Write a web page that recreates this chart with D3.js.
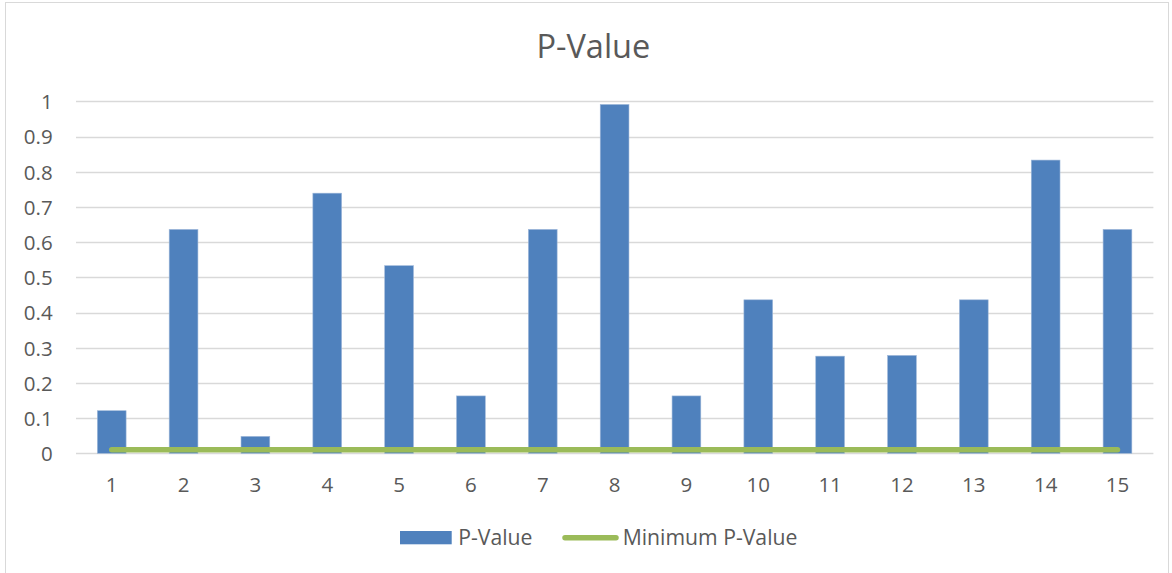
<!DOCTYPE html>
<html><head><meta charset="utf-8">
<script src="https://cdn.jsdelivr.net/npm/d3@7"></script>
<style>html,body{margin:0;padding:0;background:#fff;} svg{display:block;}</style>
</head><body>
<svg id="chart" width="1172" height="573"></svg>
<script>
const categories = ["1","2","3","4","5","6","7","8","9","10","11","12","13","14","15"];
const pValues = [0.121, 0.636, 0.048, 0.739, 0.533, 0.163, 0.636, 0.991, 0.163, 0.436, 0.276, 0.278, 0.436, 0.833, 0.636];
const minPValue = [0.01,0.01,0.01,0.01,0.01,0.01,0.01,0.01,0.01,0.01,0.01,0.01,0.01,0.01,0.01];
const yTicks = [0,0.1,0.2,0.3,0.4,0.5,0.6,0.7,0.8,0.9,1];
const seriesNames = ["P-Value","Minimum P-Value"];
const title = "P-Value";

const font = "'Open Sans', sans-serif";
const textColor = "#595959";
const svg = d3.select("#chart");

// chart border
svg.append("rect").attr("x",5.5).attr("y",2.5).attr("width",1163).attr("height",580)
  .attr("fill","#fff").attr("stroke","#D9D9D9").attr("stroke-width",1);

const x = d3.scaleBand().domain(categories).range([75.8,1153.4]).paddingInner(0.6).paddingOuter(0.3);
const y = d3.scaleLinear().domain([0,1]).range([453.3,101.3]);

// gridlines
svg.append("g").selectAll("line").data(yTicks).join("line")
  .attr("x1",76).attr("x2",1153.4)
  .attr("y1",d=>Math.round(y(d))+0.5).attr("y2",d=>Math.round(y(d))+0.5)
  .attr("stroke","#D9D9D9").attr("stroke-width",1.3);

// y axis labels
const yAxis = d3.axisLeft(y).tickValues(yTicks).tickSize(0).tickPadding(0).tickFormat(d3.format("~g"));
const gy = svg.append("g").attr("transform","translate(52.7,0)").call(yAxis);
gy.select(".domain").remove();
gy.selectAll("text").attr("font-family",font).attr("font-size","20.5px").attr("fill",textColor).attr("dy","0.36em");

// x axis labels
const xAxis = d3.axisBottom(x).tickSize(0).tickPadding(0);
const gx = svg.append("g").attr("transform","translate(0,492.3)").call(xAxis);
gx.select(".domain").remove();
gx.selectAll("text").attr("font-family",font).attr("font-size","20.5px").attr("fill",textColor).attr("dy","0");

// bars
svg.append("g").selectAll("rect").data(pValues).join("rect")
  .attr("x",(d,i)=>x(categories[i]))
  .attr("width",x.bandwidth())
  .attr("y",d=>y(d))
  .attr("height",d=>y(0)-y(d))
  .attr("fill","#4F81BD")
  .attr("stroke","#9DB7D9").attr("stroke-width",0.6);

// min line
const line = d3.line().x((d,i)=>x(categories[i])+x.bandwidth()/2).y(d=>y(d));
svg.append("path").datum(minPValue).attr("d",line)
  .attr("fill","none").attr("stroke","#9BBB59").attr("stroke-width",5.5).attr("stroke-linecap","round");

// title
svg.append("text").attr("x",593.4).attr("y",57.7).attr("text-anchor","middle")
  .attr("font-family",font).attr("font-size","32.5px").attr("fill",textColor).text(title);

// legend
const lg = svg.append("g");
lg.append("rect").attr("x",400).attr("y",531).attr("width",51.7).attr("height",13.3).attr("fill","#4F81BD");
lg.append("text").attr("x",458.3).attr("y",545).attr("font-family",font).attr("font-size","21.2px").attr("fill",textColor).text(seriesNames[0]);
lg.append("line").attr("x1",565).attr("x2",616).attr("y1",537.7).attr("y2",537.7)
  .attr("stroke","#9BBB59").attr("stroke-width",5.5).attr("stroke-linecap","round");
lg.append("text").attr("x",622.7).attr("y",545).attr("font-family",font).attr("font-size","21.2px").attr("fill",textColor).text(seriesNames[1]);
</script>
</body></html>
